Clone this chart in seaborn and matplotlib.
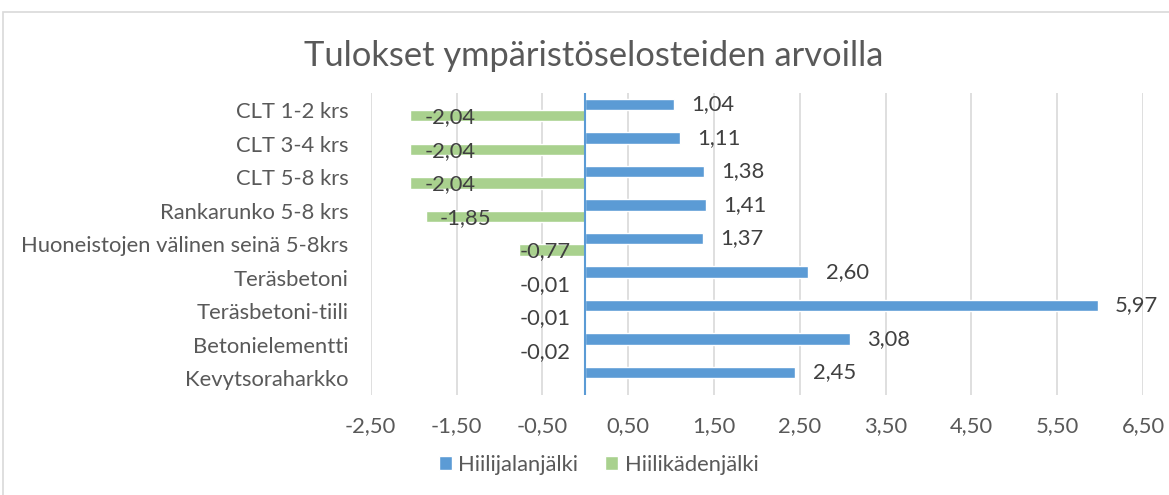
import matplotlib
matplotlib.use("Agg")
import matplotlib.pyplot as plt
from matplotlib.patches import Patch, Rectangle
import numpy as np
import pandas as pd
import seaborn as sns

categories = [
    "CLT 1-2 krs",
    "CLT 3-4 krs",
    "CLT 5-8 krs",
    "Rankarunko 5-8 krs",
    "Huoneistojen välinen seinä 5-8krs",
    "Teräsbetoni",
    "Teräsbetoni-tiili",
    "Betonielementti",
    "Kevytsoraharkko",
]
hiilijalanjalki = [1.04, 1.11, 1.38, 1.41, 1.37, 2.60, 5.97, 3.08, 2.45]
hiilikadenjalki = [-2.04, -2.04, -2.04, -1.85, -0.77, -0.01, -0.01, -0.02, np.nan]
series_names = ["Hiilijalanjälki", "Hiilikädenjälki"]
x_ticks = [-2.5, -1.5, -0.5, 0.5, 1.5, 2.5, 3.5, 4.5, 5.5, 6.5]
title = "Tulokset ympäristöselosteiden arvoilla"

BLUE = "#5B9BD5"
GREEN = "#A9D18E"
TEXT = "#595959"
GRID = "#D9D9D9"
FS = 15.8


def fi(v):
    return f"{v:.2f}".replace(".", ",")


sns.set_style("white")
plt.rcParams["font.family"] = ["Lato", "DejaVu Sans"]

df = pd.DataFrame({
    "kategoria": categories * 2,
    "arvo": hiilijalanjalki + hiilikadenjalki,
    "sarja": [series_names[0]] * len(categories) + [series_names[1]] * len(categories),
}).dropna()

fig = plt.figure(figsize=(11.69, 4.95), dpi=100)
ax = fig.add_axes([0.3171, 0.2020, 0.6607, 0.6095])
sns.barplot(data=df, x="arvo", y="kategoria", hue="sarja", order=categories,
            hue_order=series_names, palette=[BLUE, GREEN], orient="h",
            width=0.68, gap=0, saturation=1, errorbar=None, legend=False, ax=ax)

# data labels, Excel-like placement
for bar in ax.containers[0]:
    v = bar.get_width()
    y = bar.get_y() + bar.get_height() / 2
    ax.text(v + 0.2, y, fi(v), ha="left", va="center", fontsize=FS, color="#404040")
for bar in ax.containers[1]:
    v = bar.get_width()
    if np.isnan(v):
        continue
    y = bar.get_y() + bar.get_height() / 2
    ax.text(min(v + 0.76, -0.17), y + 0.05, fi(v), ha="right", va="center",
            fontsize=FS, color="#404040")

ax.axvline(0, color=BLUE, lw=1.5, zorder=3)
ax.set_xlim(-2.5, 6.5)
ax.set_xticks(x_ticks)
ax.set_xticklabels([fi(t) for t in x_ticks])
ax.xaxis.grid(True, color=GRID, lw=1.2)
ax.set_axisbelow(True)
for s in ax.spines.values():
    s.set_visible(False)
ax.tick_params(axis="both", length=0, labelsize=FS, labelcolor=TEXT)
ax.tick_params(axis="y", pad=16)
ax.tick_params(axis="x", pad=15)
ax.set_xlabel("")
ax.set_ylabel("")

fig.text(0.508, 0.886, title, ha="center", va="center", fontsize=24.8, color=TEXT)

handles = [Patch(facecolor=BLUE), Patch(facecolor=GREEN)]
fig.legend(handles, series_names, loc="center", bbox_to_anchor=(0.512, 0.061), ncol=2,
           frameon=False, fontsize=FS, labelcolor=TEXT, handlelength=0.6,
           handleheight=0.6, handletextpad=0.3, columnspacing=1.2)

fig.patches.append(Rectangle((3 / 1169, -0.05), 1.2, 1.05 - 12 / 495, transform=fig.transFigure,
                             fill=False, edgecolor=GRID, lw=1.2))

fig.savefig("out.png", dpi=100)
